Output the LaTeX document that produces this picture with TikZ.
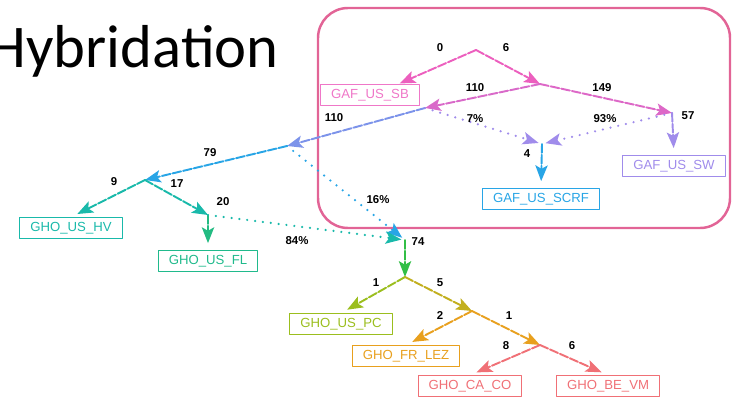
\documentclass[tikz,border=0pt]{standalone}
\usepackage{fontspec}
\setmainfont{Liberation Sans}
\newfontfamily\titlefont{Carlito}
\usetikzlibrary{arrows.meta,calc,positioning}
\definecolor{framepink}{RGB}{226,100,150}
\definecolor{gafpink}{RGB}{236,95,190}
\definecolor{gaflilac}{RGB}{160,140,235}
\definecolor{gafblue}{RGB}{40,165,230}
\definecolor{ghoteal}{RGB}{25,185,170}
\definecolor{ghogreen}{RGB}{50,190,70}
\definecolor{ghoolive}{RGB}{155,190,30}
\definecolor{ghoorange}{RGB}{232,160,30}
\definecolor{ghosalmon}{RGB}{240,112,118}

\begin{document}
\begin{tikzpicture}[x=0.02cm,y=-0.02cm,line cap=round,line join=round,
 leaf/.style={draw,font=\fontsize{7.5}{8}\selectfont,inner xsep=6pt,inner ysep=2.5pt,minimum height=0.34cm,line width=.6pt},
 branch/.style={line width=1.1pt,dash pattern=on 5pt off 1.2pt,-{Stealth[length=9pt,width=7pt,inset=2pt]}},
 link/.style={line width=1.4pt,dash pattern=on 0pt off 4.5pt,-{Stealth[length=9pt,width=7pt,inset=2pt]}},
 num/.style={font=\bfseries\fontsize{6.5}{7}\selectfont,inner sep=1pt}]
\useasboundingbox (0,0) rectangle (742,405);
% titre et cadre des GAF
\node[anchor=base east,inner sep=0pt,font=\titlefont\fontsize{34.5}{40}\selectfont] (title) at (279,68) {Hybridation};
\draw[framepink,line width=1.4pt,rounded corners=0.6cm] (318,8) rectangle (730,228);
% feuilles
\node[leaf,gafpink!85] (sb) at (370,95) {GAF\_US\_SB};
\node[leaf,gaflilac] (sw) at (674,166) {GAF\_US\_SW};
\node[leaf,gafblue] (scrf) at (541,199) {GAF\_US\_SCRF};
\node[leaf,ghoteal] (hv) at (71,228) {GHO\_US\_HV};
\node[leaf,ghoteal!70!ghogreen] (fl) at (208,261) {GHO\_US\_FL};
\node[leaf,ghoolive] (pc) at (341,324) {GHO\_US\_PC};
\node[leaf,ghoorange] (lez) at (406,356) {GHO\_FR\_LEZ};
\node[leaf,ghosalmon] (co) at (470,386) {GHO\_CA\_CO};
\node[leaf,ghosalmon] (vm) at (608,386) {GHO\_BE\_VM};
% points de branchement
\coordinate (a0) at (476,50);
\coordinate (n1) at (540,84);
\coordinate (k1) at (672,113);
\coordinate (m1) at (425,108);
\coordinate (n2) at (287,146);
\coordinate (n3) at (145,180);
\coordinate (n5) at (208,215);
\coordinate (s0) at (542,144);
\coordinate (n4) at (405,240);
\coordinate (n6) at (405,277);
\coordinate (n7) at (472,311);
\coordinate (n8) at (540,345);
% branches
\draw[branch,gafpink,shorten >=1pt] (a0) -- ($(sb.north east)!.44!(sb.north)$);
\draw[branch,gafpink] (a0) -- (n1);
\draw[branch,gafpink!80!gaflilac] (n1) -- (k1);
\draw[branch,gafpink!75!gaflilac] (n1) -- (m1);
\draw[branch,gaflilac!70!gafblue] (m1) -- (n2);
\draw[branch,gaflilac,shorten >=4pt] (k1) -- (sw.north);
\draw[link,gaflilac,shorten >=2pt] (m1) -- (s0);
\draw[link,gaflilac,shorten >=2pt] (k1) -- (s0);
\draw[branch,gafblue,shorten >=4pt] (s0) -- (scrf.north);
\draw[branch,gafblue] (n2) -- (n3);
\draw[branch,ghoteal,shorten >=4pt] (n3) -- (hv.north);
\draw[branch,ghoteal] (n3) -- (n5);
\draw[branch,ghoteal!60!ghogreen,shorten >=4pt] (n5) -- (fl.north);
\draw[link,gafblue,shorten >=2pt] (n2) -- (n4);
\draw[link,ghoteal,shorten >=2pt] (n5) -- (n4);
\draw[branch,ghogreen] (n4) -- (n6);
\draw[branch,ghoolive,shorten >=4pt] (n6) -- (pc.north);
\draw[branch,ghoolive!50!ghoorange] (n6) -- (n7);
\draw[branch,ghoorange,shorten >=4pt] (n7) -- (lez.north);
\draw[branch,ghoorange] (n7) -- (n8);
\draw[branch,ghosalmon,shorten >=4pt] (n8) -- (co.north);
\draw[branch,ghosalmon,shorten >=4pt] (n8) -- (vm.north);
% effectifs
\node[num] (l0) at (440,48) {0};
\node[num] (l6) at (506,48) {6};
\node[num] (l110a) at (475,88) {110};
\node[num] (l149) at (602,88) {149};
\node[num] (l110b) at (334,118) {110};
\node[num] (l7p) at (475,119) {7\%};
\node[num] (l93p) at (605,119) {93\%};
\node[num] (l57) at (688,116) {57};
\node[num] (l4) at (527,154) {4};
\node[num] (l79) at (210,153) {79};
\node[num] (l9) at (114,182) {9};
\node[num] (l17) at (177,184) {17};
\node[num] (l20) at (223,202) {20};
\node[num] (l16p) at (378,200) {16\%};
\node[num] (l84p) at (297,241) {84\%};
\node[num] (l74) at (418,242) {74};
\node[num] (l1a) at (376,283) {1};
\node[num] (l5) at (440,283) {5};
\node[num] (l2) at (440,316) {2};
\node[num] (l1b) at (509,316) {1};
\node[num] (l8) at (506,346) {8};
\node[num] (l6b) at (572,346) {6};
\end{tikzpicture}
\end{document}
